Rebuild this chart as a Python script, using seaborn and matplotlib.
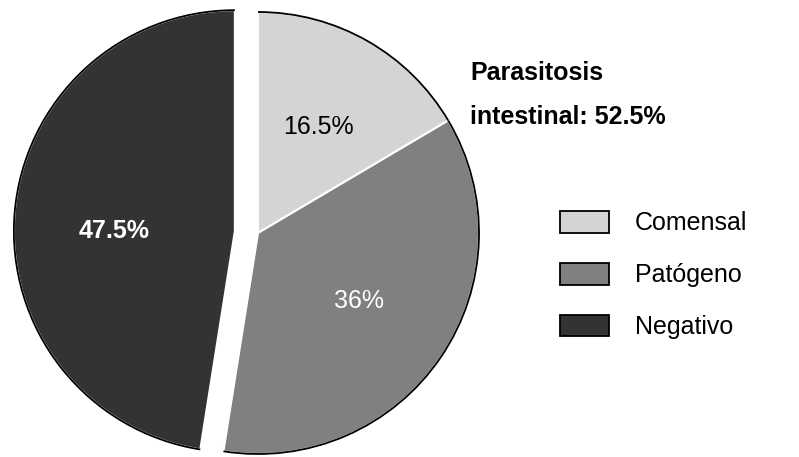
import numpy as np
import matplotlib
matplotlib.use("Agg")
import matplotlib.pyplot as plt
from matplotlib.patches import Arc, Patch
import seaborn as sns

# data
categories = ["Comensal", "Patógeno", "Negativo"]
percentages = [16.5, 36.0, 47.5]
explode = [0, 0, 0.105]
title_text = "Parasitosis\nintestinal: 52.5%"

sns.set_theme(style="white")
plt.rcParams["font.family"] = ["Liberation Sans", "DejaVu Sans"]
plt.rcParams["text.color"] = "black"

colors = sns.color_palette(["#d4d4d4", "#808080", "#333333"])

W, H = 799, 457
fig = plt.figure(figsize=(W / 100, H / 100), dpi=100)
ax = fig.add_axes([0, 0, 1, 1])

# pie centre at (258, 233) px, radius 221 px -> data units of 221 px
cx, cy, rpx = 258, 233, 221

wedges, texts, autotexts = ax.pie(
    percentages,
    explode=explode,
    colors=colors,
    startangle=90,
    counterclock=False,
    autopct=lambda p: f"{round(p, 1):g}%",
    pctdistance=0.55,
    wedgeprops={"edgecolor": "white", "linewidth": 1.5},
    textprops={"fontsize": 18, "color": "black"},
    frame=True,
)
ax.set_xlim(-cx / rpx, (W - cx) / rpx)
ax.set_ylim(-(H - cy) / rpx, cy / rpx)
ax.set_aspect("auto")
ax.set_axis_off()

# black outline only along the outer arcs
for w in wedges:
    ax.add_patch(Arc(w.center, 2 * w.r, 2 * w.r, theta1=w.theta1, theta2=w.theta2,
                     color="black", linewidth=1.3, zorder=3))

autotexts[1].set_color("white")
autotexts[2].set_color("white")
autotexts[2].set_fontweight("bold")
# the big slice label sits level with the centre of its slice
autotexts[2].set_y(wedges[2].center[1])

handles = [Patch(facecolor=c, edgecolor="black", linewidth=1.3) for c in colors]
fig.legend(
    handles, categories,
    loc="center left",
    bbox_to_anchor=(560 / W, 1 - 275 / H),
    frameon=False,
    fontsize=18,
    handlelength=1.96,
    handleheight=0.96,
    handletextpad=1.04,
    labelspacing=1.1,
    borderpad=0,
    borderaxespad=0,
)

fig.text(470 / W, 1 - 95 / H, title_text, fontsize=18, fontweight="bold",
         ha="left", va="center", linespacing=2.05)

fig.savefig("out.png", dpi=100)
